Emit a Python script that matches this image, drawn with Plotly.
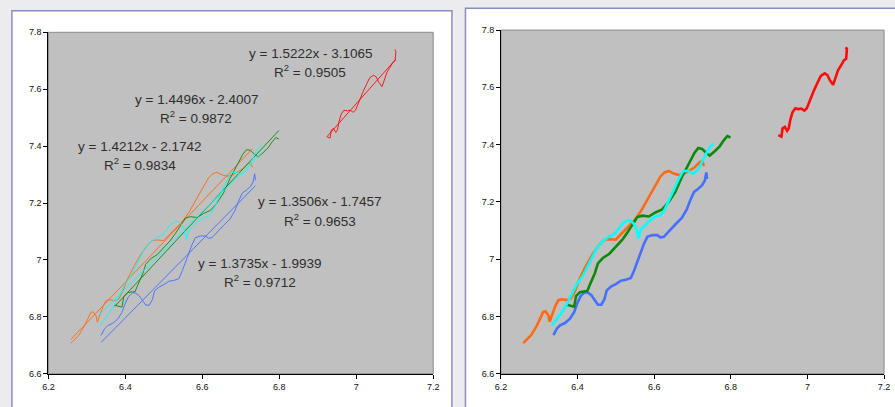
import plotly.graph_objects as go

# ---- data -------------------------------------------------------------
orange_x = [6.258, 6.279, 6.294, 6.310, 6.316, 6.324, 6.327, 6.333, 6.342, 6.350, 6.359,
            6.372, 6.382, 6.393, 6.406, 6.423, 6.440, 6.458, 6.470, 6.483, 6.500, 6.513,
            6.530, 6.548, 6.565, 6.582, 6.599, 6.616, 6.627, 6.638, 6.651, 6.664, 6.676,
            6.689, 6.705, 6.719, 6.725, 6.730]
orange_y = [6.707, 6.735, 6.769, 6.815, 6.818, 6.803, 6.781, 6.803, 6.837, 6.857, 6.860,
            6.857, 6.861, 6.888, 6.934, 6.979, 7.019, 7.053, 7.068, 7.070, 7.068, 7.087,
            7.110, 7.135, 7.167, 7.209, 7.249, 7.288, 7.303, 7.308, 7.299, 7.294, 7.297,
            7.308, 7.320, 7.339, 7.342, 7.325]

cyan_x = [6.333, 6.346, 6.359, 6.372, 6.385, 6.397, 6.415, 6.432, 6.449, 6.466, 6.483,
          6.496, 6.505, 6.518, 6.530, 6.539, 6.548, 6.554, 6.559, 6.562, 6.565, 6.578,
          6.591, 6.603, 6.616, 6.627, 6.638, 6.651, 6.664, 6.676, 6.688, 6.702, 6.715,
          6.728, 6.741, 6.754]
cyan_y = [6.769, 6.792, 6.815, 6.843, 6.877, 6.911, 6.945, 6.991, 7.036, 7.064, 7.079,
          7.087, 7.104, 7.125, 7.135, 7.135, 7.121, 7.104, 7.072, 7.093, 7.104, 7.121,
          7.138, 7.149, 7.152, 7.172, 7.206, 7.246, 7.280, 7.308, 7.308, 7.299, 7.314,
          7.348, 7.382, 7.405]

green_x = [6.372, 6.385, 6.391, 6.396, 6.406, 6.419, 6.425, 6.432, 6.445, 6.453, 6.466,
           6.483, 6.500, 6.518, 6.530, 6.543, 6.556, 6.569, 6.586, 6.603, 6.621, 6.638,
           6.655, 6.672, 6.689, 6.705, 6.715, 6.725, 6.736, 6.745, 6.758, 6.771, 6.782,
           6.791, 6.799]
green_y = [6.841, 6.837, 6.834, 6.871, 6.885, 6.888, 6.888, 6.911, 6.951, 6.985, 7.004,
           7.019, 7.042, 7.070, 7.093, 7.121, 7.147, 7.152, 7.149, 7.163, 7.174, 7.200,
           7.235, 7.286, 7.331, 7.371, 7.388, 7.385, 7.371, 7.362, 7.377, 7.394, 7.416,
           7.430, 7.425]

blue_x = [6.337, 6.346, 6.354, 6.367, 6.380, 6.391, 6.399, 6.408, 6.419, 6.427, 6.436,
          6.445, 6.453, 6.462, 6.470, 6.476, 6.488, 6.500, 6.513, 6.526, 6.539, 6.548,
          6.556, 6.565, 6.573, 6.582, 6.595, 6.608, 6.616, 6.625, 6.638, 6.655, 6.672,
          6.685, 6.694, 6.704, 6.715, 6.725, 6.732, 6.736, 6.738]
blue_y = [6.735, 6.758, 6.769, 6.777, 6.792, 6.815, 6.845, 6.871, 6.885, 6.883, 6.874,
          6.854, 6.841, 6.841, 6.860, 6.891, 6.905, 6.913, 6.925, 6.928, 6.934, 6.962,
          6.991, 7.019, 7.053, 7.078, 7.084, 7.084, 7.076, 7.078, 7.098, 7.121, 7.144,
          7.174, 7.206, 7.235, 7.246, 7.258, 7.274, 7.303, 7.280]

red_x = [6.924, 6.932, 6.935, 6.941, 6.947, 6.951, 6.955, 6.961, 6.968, 6.977, 6.984,
         6.992, 6.998, 7.007, 7.018, 7.028, 7.035, 7.045, 7.052, 7.058, 7.067, 7.073,
         7.080, 7.088, 7.095, 7.101, 7.103, 7.100]
red_y = [7.433, 7.428, 7.456, 7.462, 7.448, 7.456, 7.485, 7.513, 7.526, 7.524, 7.526,
         7.519, 7.526, 7.558, 7.592, 7.621, 7.640, 7.649, 7.643, 7.626, 7.609, 7.632,
         7.660, 7.677, 7.694, 7.700, 7.734, 7.740]

# linear trend equations shown on the left chart: y = slope*x + intercept
trend_slope = [1.4212, 1.3506, 1.4496, 1.3735, 1.5222]
trend_intercept = [-2.1742, -1.7457, -2.4007, -1.9939, -3.1065]
trend_r2 = [0.9834, 0.9653, 0.9872, 0.9712, 0.9505]

x_ticks = [6.2, 6.4, 6.6, 6.8, 7.0, 7.2]
x_tick_text = ["6.2", "6.4", "6.6", "6.8", "7", "7.2"]
y_ticks = [6.6, 6.8, 7.0, 7.2, 7.4, 7.6, 7.8]
y_tick_text = ["6.6", "6.8", "7", "7.2", "7.4", "7.6", "7.8"]

# ---- styling ----------------------------------------------------------
series = [
    (orange_x, orange_y, "#ff6a10"),
    (cyan_x, cyan_y, "#00ffff"),
    (green_x, green_y, "#0a8a0a"),
    (blue_x, blue_y, "#4470ff"),
    (red_x, red_y, "#ff0a0a"),
]
draw_order = [3, 0, 2, 1, 4]  # blue, orange, green, cyan, red

# label anchor (data coords on the left chart): x, y of first line, y of second line
label_pos = [
    (6.437, 7.398, 7.336),
    (6.905, 7.204, 7.142),
    (6.584, 7.564, 7.502),
    (6.749, 6.986, 6.925),
    (6.880, 7.727, 7.664),
]

fig = go.Figure()

for i in draw_order:
    xs, ys, col = series[i]
    # thin series + trend line on the left chart
    fig.add_trace(go.Scatter(x=xs, y=ys, mode="lines", line=dict(color=col, width=1),
                             xaxis="x", yaxis="y", hoverinfo="skip", opacity=0.9))
    x0, x1 = min(xs), max(xs)
    m, b = trend_slope[i], trend_intercept[i]
    fig.add_trace(go.Scatter(x=[x0, x1], y=[m * x0 + b, m * x1 + b], mode="lines",
                             line=dict(color=col, width=1), xaxis="x", yaxis="y",
                             hoverinfo="skip", opacity=0.9))
    # heavier series on the right chart
    fig.add_trace(go.Scatter(x=xs, y=ys, mode="lines", line=dict(color=col, width=2.6),
                             xaxis="x2", yaxis="y2", hoverinfo="skip"))

label_font = dict(family="Liberation Sans, Arial", size=13.5, color="#2e2e2e")
annotations = []
for i in range(5):
    lx, ly1, ly2 = label_pos[i]
    sign = "-" if trend_intercept[i] < 0 else "+"
    annotations.append(dict(
        x=lx, y=ly1, xref="x", yref="y", showarrow=False, font=label_font,
        text=f"y = {trend_slope[i]:.4f}x {sign} {abs(trend_intercept[i]):.4f}",
        xanchor="center", yanchor="middle"))
    annotations.append(dict(
        x=lx, y=ly2, xref="x", yref="y", showarrow=False, font=label_font,
        text=f"R<sup>2</sup> = {trend_r2[i]:.4f}",
        xanchor="center", yanchor="middle"))

axis_common = dict(
    showgrid=False, zeroline=False, showline=True, linecolor="#000000", linewidth=1,
    ticks="outside", ticklen=4, tickwidth=1, tickcolor="#000000",
    tickfont=dict(family="Liberation Sans, Arial", size=9, color="#111111"),
)

H = 407.0
W = 895.0
shapes = [
    # white chart boxes
    dict(type="rect", xref="paper", yref="paper", x0=6 / W, x1=452 / W, y0=-0.05,
         y1=(H - 6) / H, fillcolor="#ffffff", line=dict(color="#8c8cc4", width=1.5),
         layer="below"),
    dict(type="rect", xref="paper", yref="paper", x0=465.7 / W, x1=1.05, y0=-0.05,
         y1=(H - 3.3) / H, fillcolor="#ffffff", line=dict(color="#8c8cc4", width=1.5),
         layer="below"),
    # silver plot areas with a grey frame
    dict(type="rect", xref="x domain", yref="y domain", x0=0, x1=1, y0=0, y1=1,
         fillcolor="#c0c0c0", line=dict(color="#8a8a8a", width=1), layer="below"),
    dict(type="rect", xref="x2 domain", yref="y2 domain", x0=0, x1=1, y0=0, y1=1,
         fillcolor="#c0c0c0", line=dict(color="#8a8a8a", width=1), layer="below"),
]

fig.update_layout(
    width=895, height=407,
    margin=dict(l=0, r=0, t=0, b=0),
    paper_bgcolor="#ececef",
    plot_bgcolor="rgba(0,0,0,0)",
    showlegend=False,
    xaxis=dict(domain=[43 / W, 433 / W], range=[6.2, 7.2], tickvals=x_ticks,
               ticktext=x_tick_text, anchor="y", **axis_common),
    yaxis=dict(domain=[(H - 378) / H, (H - 28) / H], range=[6.6, 7.8], tickvals=y_ticks,
               ticktext=y_tick_text, anchor="x", **axis_common),
    xaxis2=dict(domain=[501.7 / W, 890 / W], range=[6.2, 7.2], tickvals=x_ticks,
                ticktext=x_tick_text, anchor="y2", **axis_common),
    yaxis2=dict(domain=[(H - 378) / H, (H - 25.7) / H], range=[6.6, 7.8], tickvals=y_ticks,
                ticktext=y_tick_text, anchor="x2", **axis_common),
    annotations=annotations,
    shapes=shapes,
)

fig.write_html("out.html")
